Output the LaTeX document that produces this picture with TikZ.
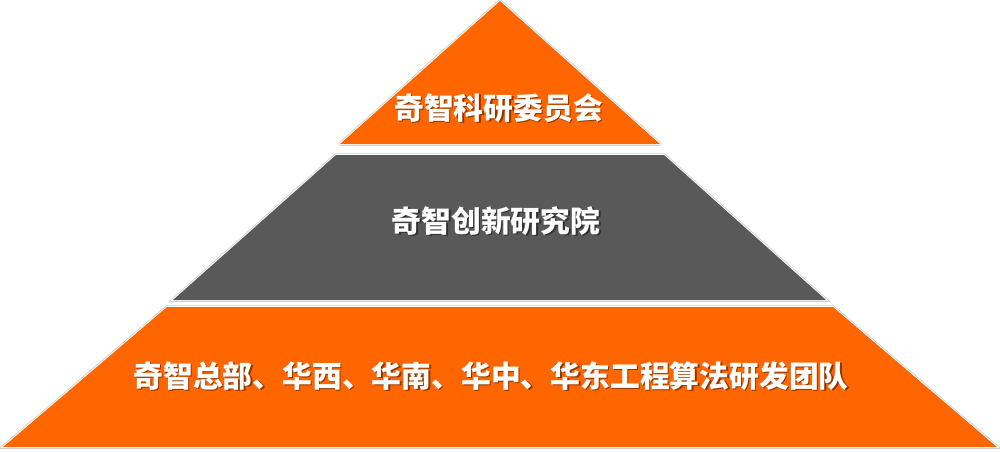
\documentclass[tikz,border=0pt]{standalone}
\usepackage{fontspec}
\newfontfamily\cjk{Noto Sans CJK SC}
\begin{document}
\begin{tikzpicture}[x=1pt,y=-1pt]
\definecolor{orng}{HTML}{FF6600}
\definecolor{gry}{HTML}{595959}
\definecolor{edge}{HTML}{D0D0D0}
\tikzset{
  lbl/.style={font=\cjk\bfseries\fontsize{29.8}{30}\selectfont, text=white, inner sep=0pt},
  lblshadow/.style={font=\cjk\bfseries\fontsize{29.8}{30}\selectfont, text=black, opacity=0.45, inner sep=0pt}
}
\useasboundingbox (0,0) rectangle (1000,451);
% top triangle
\draw[edge, line width=3.5pt, line join=round] (500,1) -- (660,144) -- (340,144) -- cycle;
\draw[white, line width=1.8pt, line join=round] (500,1) -- (660,144) -- (340,144) -- cycle;
\fill[orng] (500,1) -- (660,144) -- (340,144) -- cycle;
% middle trapezoid
\draw[edge, line width=3.5pt] (336,155) -- (664,155) -- (826,300) -- (173,300) -- cycle;
\draw[white, line width=1.8pt] (336,155) -- (664,155) -- (826,300) -- (173,300) -- cycle;
\fill[gry] (336,155) -- (664,155) -- (826,300) -- (173,300) -- cycle;
% bottom trapezoid
\draw[edge, line width=3.5pt] (167,307) -- (833,307) -- (997,447) -- (3,447) -- cycle;
\draw[white, line width=1.8pt] (167,307) -- (833,307) -- (997,447) -- (3,447) -- cycle;
\fill[orng] (167,307) -- (833,307) -- (997,447) -- (3,447) -- cycle;
% labels
\node[lblshadow] (s1) at (500,109.5) {奇智科研委员会};
\node[lbl] (t1) at (498.5,108) {奇智科研委员会};
\node[lblshadow] (s2) at (497.5,222.5) {奇智创新研究院};
\node[lbl] (t2) at (496,221) {奇智创新研究院};
\node[lblshadow] (s3) at (492.5,377.5) {奇智总部、华西、华南、华中、华东工程算法研发团队};
\node[lbl] (t3) at (491,376) {奇智总部、华西、华南、华中、华东工程算法研发团队};
\end{tikzpicture}
\end{document}
